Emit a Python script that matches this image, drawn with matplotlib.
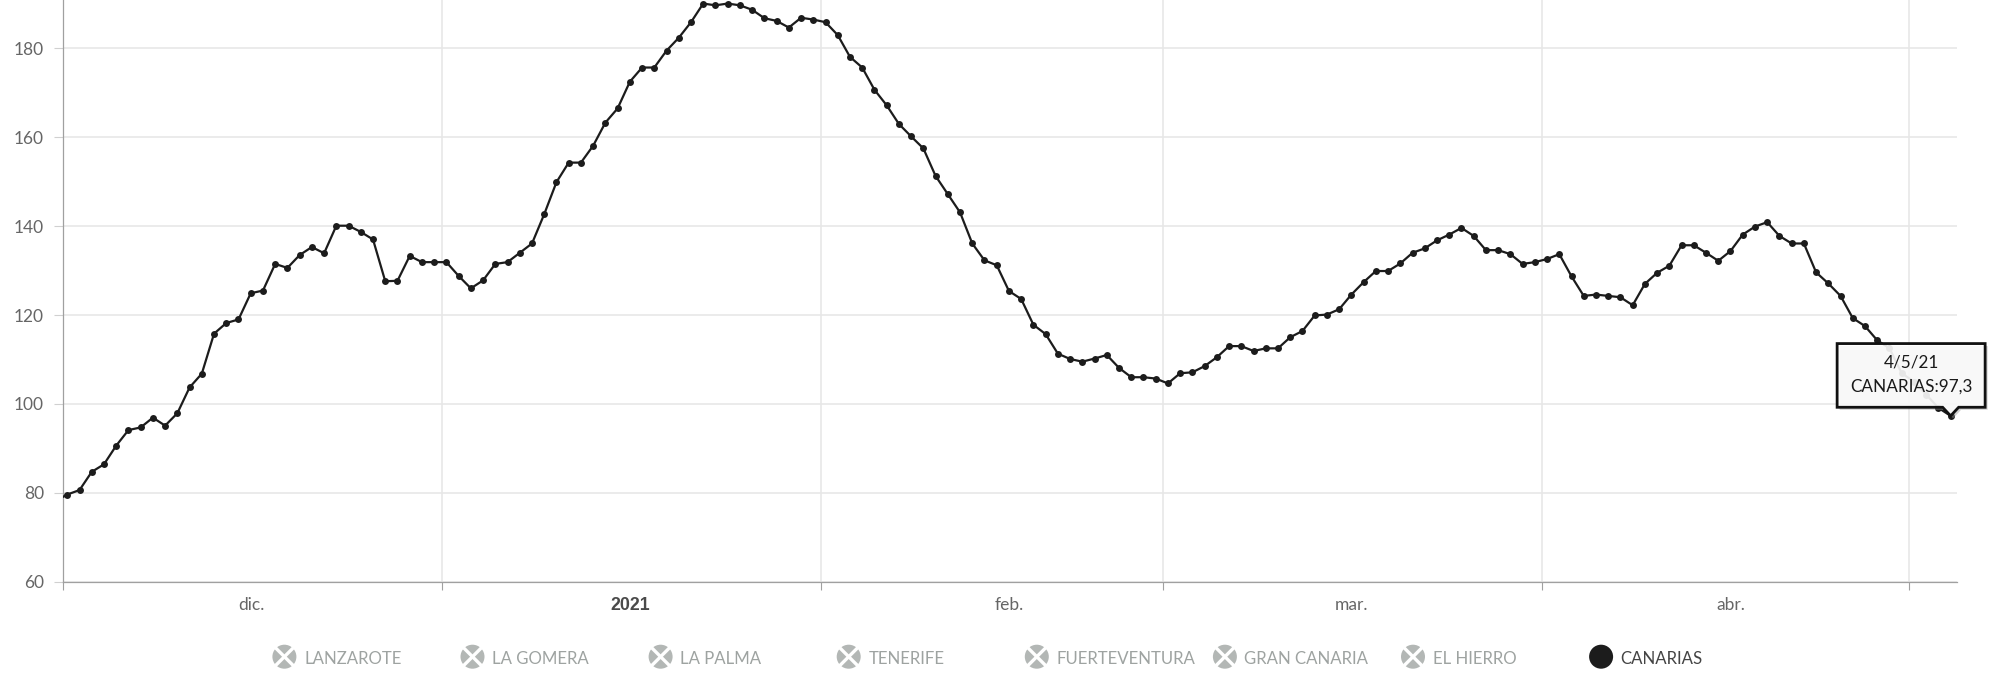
import matplotlib
matplotlib.use("Agg")
import matplotlib.pyplot as plt
import matplotlib.dates as mdates
import matplotlib.transforms as mtransforms
from matplotlib.patches import Polygon, Circle
from matplotlib.lines import Line2D
import pandas as pd

# ---------------- data ----------------
start_date = "2020-11-30"
canarias = [
    78.1,
    # December
    79.6, 80.6, 84.7, 86.4, 90.6, 94.1, 94.7, 96.9, 95.1, 97.9,
    103.7, 106.8, 115.8, 118.2, 119.0, 124.9, 125.5, 131.5, 130.6, 133.5,
    135.3, 133.9, 140.1, 140.1, 138.7, 137.0, 127.6, 127.7, 133.3, 131.9, 131.9,
    # January
    131.9, 128.8, 126.0, 127.8, 131.5, 131.9, 134.0, 136.1, 142.7, 149.9,
    154.3, 154.3, 158.1, 163.3, 166.5, 172.5, 175.7, 175.7, 179.5, 182.4,
    185.9, 190.1, 189.7, 190.1, 189.7, 188.7, 186.8, 186.2, 184.7, 186.9, 186.5,
    # February
    185.9, 183.0, 178.1, 175.7, 170.7, 167.2, 163.0, 160.2, 157.5, 151.3,
    147.2, 143.1, 136.1, 132.3, 131.2, 125.4, 123.6, 117.8, 115.7, 111.3,
    110.1, 109.5, 110.2, 111.0, 108.1, 106.0, 106.0, 105.7,
    # March
    104.6, 106.9, 107.1, 108.5, 110.5, 113.0, 113.0, 111.9, 112.5, 112.5,
    115.0, 116.4, 119.9, 120.1, 121.3, 124.6, 127.4, 129.9, 129.9, 131.6,
    134.0, 135.0, 136.8, 138.1, 139.6, 137.8, 134.6, 134.6, 133.7, 131.5, 131.9,
    # April
    132.6, 133.7, 128.7, 124.3, 124.6, 124.3, 124.0, 122.2, 127.0, 129.5,
    131.1, 135.7, 135.7, 134.0, 132.2, 134.4, 138.1, 139.9, 140.9, 137.8,
    136.1, 136.1, 129.6, 127.1, 124.3, 119.3, 117.5, 114.3, 112.5, 106.9,
    # May
    105.0, 102.1, 99.1, 97.3,
]
series_names = ["LANZAROTE", "LA GOMERA", "LA PALMA", "TENERIFE",
                "FUERTEVENTURA", "GRAN CANARIA", "EL HIERRO", "CANARIAS"]
series_visible = [False, False, False, False, False, False, False, True]
month_labels = ["dic.", "2021", "feb.", "mar.", "abr."]
y_ticks = [60, 80, 100, 120, 140, 160, 180]
x_start = "2020-12-01"
x_end = "2021-05-04 21:30"
y_range = (60, 190.9)

# ---------------- styling ----------------
plt.rcParams["font.family"] = ["Lato", "DejaVu Sans"]
LINE = "#1c1c1c"
GRID = "#e6e6e6"
AXIS = "#a0a0a0"
LABEL = "#666666"

W, H, DPI = 20.0, 6.96, 100
fig = plt.figure(figsize=(W, H), dpi=DPI)
ax_left, ax_right, ax_bottom = 62.7, 1957.0, 581.6
ax = fig.add_axes([ax_left / 2000, 1 - ax_bottom / 696,
                   (ax_right - ax_left) / 2000, ax_bottom / 696])

# data times are plotted with the source's 9-hour display offset
dates = pd.date_range(start_date, periods=len(canarias), freq="D") + pd.Timedelta(hours=9)

ax.plot(dates, canarias, color=LINE, lw=1.6, marker="o", ms=5,
        markeredgewidth=0, zorder=3, clip_on=True)

ax.set_xlim(pd.Timestamp(x_start), pd.Timestamp(x_end))
ax.set_ylim(*y_range)

# y axis
ax.set_yticks(y_ticks)
ax.set_yticklabels([str(v) for v in y_ticks])
ax.tick_params(axis="y", which="major", length=6.5, width=0.8, color="#d0d0d0",
               labelsize=12.5, labelcolor=LABEL, pad=7)
ax.grid(axis="y", color=GRID, lw=1.1, zorder=0)

# x axis: month boundaries as major ticks, labels placed ~half a month in
month_starts = pd.date_range(x_start, periods=6, freq="MS")
ax.set_xticks(month_starts)
ax.set_xticklabels([""] * len(month_starts))
label_offset = pd.Timedelta(days=15.4)
mids = [ms + label_offset for ms in month_starts[:-1]]
ax.set_xticks(mids, minor=True)
ax.set_xticklabels(month_labels, minor=True)
ax.tick_params(axis="x", which="major", length=5.5, width=0.8, color=AXIS)
ax.tick_params(axis="x", which="minor", length=0, labelsize=12.5,
               labelcolor=LABEL, pad=11)
for lbl in ax.get_xticklabels(minor=True):
    if lbl.get_text().isdigit():
        lbl.set_fontweight("bold")
        lbl.set_color("#4a4a4a")
        lbl.set_fontfamily(["Liberation Sans", "DejaVu Sans"])
        lbl.set_fontsize(12.8)
ax.grid(axis="x", which="major", color=GRID, lw=1.1, zorder=0)

for s in ["top", "right"]:
    ax.spines[s].set_visible(False)
for s in ["left", "bottom"]:
    ax.spines[s].set_color(AXIS)
    ax.spines[s].set_linewidth(0.9)

# ---------------- tooltip on last point ----------------
fig.canvas.draw()
last_date, last_val = dates[-1], canarias[-1]
px, py = ax.transData.transform((mdates.date2num(last_date), last_val))
box = [(-113.5, 8.6), (-8, 8.6), (0, 0), (8, 8.6), (34.5, 8.6),
       (34.5, 72.3), (-113.5, 72.3)]
shadow_tr = mtransforms.Affine2D().translate(px + 2.5, py - 2.5)
box_tr = mtransforms.Affine2D().translate(px, py)
ax.add_artist(Polygon(box, closed=True, transform=shadow_tr, clip_on=False,
                      facecolor="#9a9a9a", edgecolor="none", alpha=0.45, zorder=8))
ax.add_artist(Polygon(box, closed=True, transform=box_tr, clip_on=False,
                      facecolor="white", edgecolor="none",
                      alpha=0.86, zorder=9))
ax.add_artist(Polygon(box, closed=True, transform=box_tr, clip_on=False,
                      facecolor="none", edgecolor="#111111", lw=2.0,
                      zorder=10, joinstyle="miter"))
date_txt = f"{last_date.day}/{last_date.month}/{last_date.strftime('%y')}"
val_txt = f"CANARIAS:{last_val:.1f}".replace(".", ",")
ax.annotate(date_txt, xy=(last_date, last_val), xytext=(-39.5, 53.5),
            textcoords="offset pixels", ha="center", va="center",
            fontsize=12.3, color="#1a1a1a", zorder=11, annotation_clip=False)
ax.annotate(val_txt, xy=(last_date, last_val), xytext=(-39.5, 29.5),
            textcoords="offset pixels", ha="center", va="center",
            fontsize=12.3, color="#1a1a1a", zorder=11, annotation_clip=False)

# ---------------- legend ----------------
leg_x0, leg_dx = 2.844, 1.881   # inches
leg_cy, leg_base = 0.393, 0.317
r = 0.12
for i, (name, vis) in enumerate(zip(series_names, series_visible)):
    cx = leg_x0 + i * leg_dx
    if vis:
        fig.add_artist(Circle((cx, leg_cy), r, transform=fig.dpi_scale_trans,
                              facecolor=LINE, edgecolor="none"))
        tcol = "#444444"
    else:
        fig.add_artist(Circle((cx, leg_cy), r, transform=fig.dpi_scale_trans,
                              facecolor="#b3b7b5", edgecolor="none"))
        d = r * 0.75
        for sx in (1, -1):
            fig.add_artist(Line2D([cx - d, cx + d], [leg_cy - sx * d, leg_cy + sx * d],
                                  transform=fig.dpi_scale_trans, color="white",
                                  lw=2.4, solid_capstyle="butt"))
        tcol = "#9ea3a1"
    fig.text(cx + 0.196, leg_base, name, transform=fig.dpi_scale_trans,
             ha="left", va="baseline", fontsize=12.1, color=tcol,
             fontweight="normal")

fig.savefig("out.png", dpi=DPI, facecolor="white")
